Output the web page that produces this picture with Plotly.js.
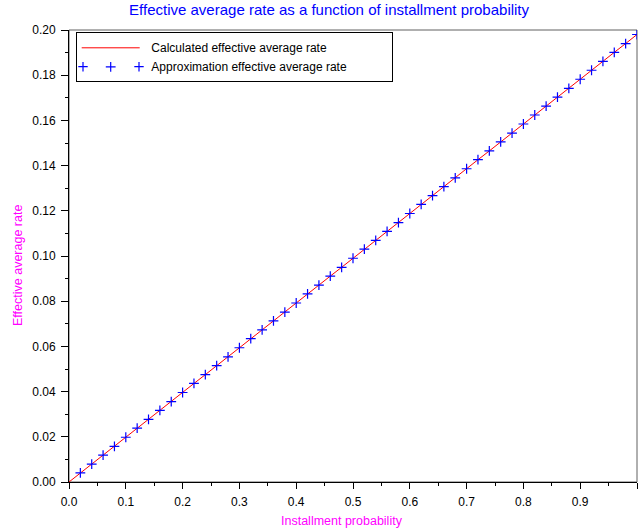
<!DOCTYPE html>
<html>
<head>
<meta charset="utf-8">
<script src="https://cdn.plot.ly/plotly-3.0.1.min.js"></script>
<style>html,body{margin:0;padding:0;background:#fff;}#chart{width:639px;height:531px;}</style>
</head>
<body>
<div id="chart"></div>
<script>
// Calculated effective average rate (line)
var lineX = [0, 0.02, 0.04, 0.06, 0.08, 0.10, 0.12, 0.14, 0.16, 0.18, 0.20, 0.22, 0.24, 0.26, 0.28, 0.30, 0.32, 0.34, 0.36, 0.38, 0.40, 0.42, 0.44, 0.46, 0.48, 0.50, 0.52, 0.54, 0.56, 0.58, 0.60, 0.62, 0.64, 0.66, 0.68, 0.70, 0.72, 0.74, 0.76, 0.78, 0.80, 0.82, 0.84, 0.86, 0.88, 0.90, 0.92, 0.94, 0.96, 0.98, 1.00];
var lineY = [0, 0.0040, 0.0079, 0.0119, 0.0158, 0.0198, 0.0238, 0.0277, 0.0317, 0.0356, 0.0396, 0.0436, 0.0475, 0.0515, 0.0554, 0.0594, 0.0634, 0.0673, 0.0713, 0.0752, 0.0792, 0.0832, 0.0871, 0.0911, 0.0950, 0.0990, 0.1030, 0.1069, 0.1109, 0.1148, 0.1188, 0.1228, 0.1267, 0.1307, 0.1346, 0.1386, 0.1426, 0.1465, 0.1505, 0.1544, 0.1584, 0.1624, 0.1663, 0.1703, 0.1742, 0.1782, 0.1822, 0.1861, 0.1901, 0.1940, 0.1980];
// Approximation effective average rate (markers)
var approxX = [0.02, 0.04, 0.06, 0.08, 0.10, 0.12, 0.14, 0.16, 0.18, 0.20, 0.22, 0.24, 0.26, 0.28, 0.30, 0.32, 0.34, 0.36, 0.38, 0.40, 0.42, 0.44, 0.46, 0.48, 0.50, 0.52, 0.54, 0.56, 0.58, 0.60, 0.62, 0.64, 0.66, 0.68, 0.70, 0.72, 0.74, 0.76, 0.78, 0.80, 0.82, 0.84, 0.86, 0.88, 0.90, 0.92, 0.94, 0.96, 0.98, 1.00];
var approxY = [0.0040, 0.0079, 0.0119, 0.0158, 0.0198, 0.0238, 0.0277, 0.0317, 0.0356, 0.0396, 0.0436, 0.0475, 0.0515, 0.0554, 0.0594, 0.0634, 0.0673, 0.0713, 0.0752, 0.0792, 0.0832, 0.0871, 0.0911, 0.0950, 0.0990, 0.1030, 0.1069, 0.1109, 0.1148, 0.1188, 0.1228, 0.1267, 0.1307, 0.1346, 0.1386, 0.1426, 0.1465, 0.1505, 0.1544, 0.1584, 0.1624, 0.1663, 0.1703, 0.1742, 0.1782, 0.1822, 0.1861, 0.1901, 0.1940, 0.1980];

var titleText = "Effective average rate as a function of installment probability";
var xTitle = "Installment probability";
var yTitle = "Effective average rate";
var lineName = "Calculated effective average rate";
var approxName = "Approximation effective average rate";

var FONT = "Liberation Sans, Arial, sans-serif";
var LEAD = "\u00a0\u00a0";
var PAD = "\u00a0\u00a0\u00a0\u00a0\u00a0\u00a0\u00a0\u00a0\u00a0\u00a0\u00a0\u00a0";

var traces = [
  {x: lineX, y: lineY, name: LEAD + lineName, type: "scatter", mode: "lines",
   line: {color: "#ff0000", width: 1}},
  {x: approxX, y: approxY, name: LEAD + approxName + PAD, type: "scatter", mode: "markers",
   marker: {symbol: "cross-thin-open", size: 7, color: "#0000ff", line: {color: "#0000ff", width: 1.2}}}
];

// plot area in px: left 69, right 637, top 30, bottom 482
function px(x) { return (x - 69) / 568; }
function py(y) { return (482 - y) / 452; }
function crossPath(cx, cy, h) {
  return "M" + px(cx - h) + "," + py(cy) + "L" + px(cx + h) + "," + py(cy) +
         "M" + px(cx) + "," + py(cy - h) + "L" + px(cx) + "," + py(cy + h);
}

var layout = {
  width: 639, height: 531,
  margin: {l: 69, r: 2, t: 30, b: 49},
  paper_bgcolor: "#fff", plot_bgcolor: "#fff",
  font: {family: FONT, size: 12, color: "#000"},
  title: {text: titleText, font: {family: FONT, size: 15, color: "#0000ff"}, x: 0.515, xanchor: "center", y: 0.981, yanchor: "middle"},
  xaxis: {
    range: [0, 1], tick0: 0, dtick: 0.1, tickformat: ".1f",
    showgrid: false, zeroline: false, showline: true, linecolor: "#000", linewidth: 1,
    ticks: "outside", ticklen: 6, tickcolor: "#000", ticklabelstandoff: 3,
    minor: {dtick: 0.05, ticks: "outside", ticklen: 3, tickcolor: "#000", showgrid: false},
    automargin: false, fixedrange: true
  },
  yaxis: {
    range: [0, 0.2], tick0: 0, dtick: 0.02, tickformat: ".2f",
    showgrid: false, zeroline: false, showline: true, linecolor: "#000", linewidth: 1,
    ticks: "outside", ticklen: 7, tickcolor: "#000", ticklabelstandoff: 3,
    minor: {dtick: 0.01, ticks: "outside", ticklen: 3, tickcolor: "#000", showgrid: false},
    automargin: false, fixedrange: true
  },
  annotations: [
    {text: xTitle, xref: "paper", yref: "paper", x: px(342), y: py(520.5), xanchor: "center", yanchor: "middle",
     showarrow: false, font: {family: FONT, size: 12.5, color: "#ff00ff"}},
    {text: yTitle, xref: "paper", yref: "paper", x: px(18), y: py(266), xanchor: "center", yanchor: "middle",
     textangle: -90, showarrow: false, font: {family: FONT, size: 12.5, color: "#ff00ff"}}
  ],
  showlegend: true,
  legend: {
    x: px(75.7), y: py(32.3), xanchor: "left", yanchor: "top",
    bgcolor: "rgba(0,0,0,0)", bordercolor: "#000", borderwidth: 1,
    font: {family: FONT, size: 12, color: "#000"},
    itemwidth: 58, tracegroupgap: 0
  },
  shapes: [
    {type: "rect", xref: "paper", yref: "paper", x0: 0, x1: 1, y0: 0, y1: 1,
     line: {color: "#606060", width: 1}, layer: "below"},
    {type: "rect", xref: "paper", yref: "paper", x0: px(75.7), x1: px(395), y0: py(79.3), y1: py(32.3),
     fillcolor: "#fff", line: {width: 0}, layer: "above"},
    {type: "path", xref: "paper", yref: "paper", path: crossPath(83, 66.7, 4.7),
     line: {color: "#0000ff", width: 1.2}, layer: "above"},
    {type: "path", xref: "paper", yref: "paper", path: crossPath(139, 66.7, 4.7),
     line: {color: "#0000ff", width: 1.2}, layer: "above"}
  ]
};

Plotly.newPlot("chart", traces, layout, {displayModeBar: false, staticPlot: true});
</script>
</body>
</html>
